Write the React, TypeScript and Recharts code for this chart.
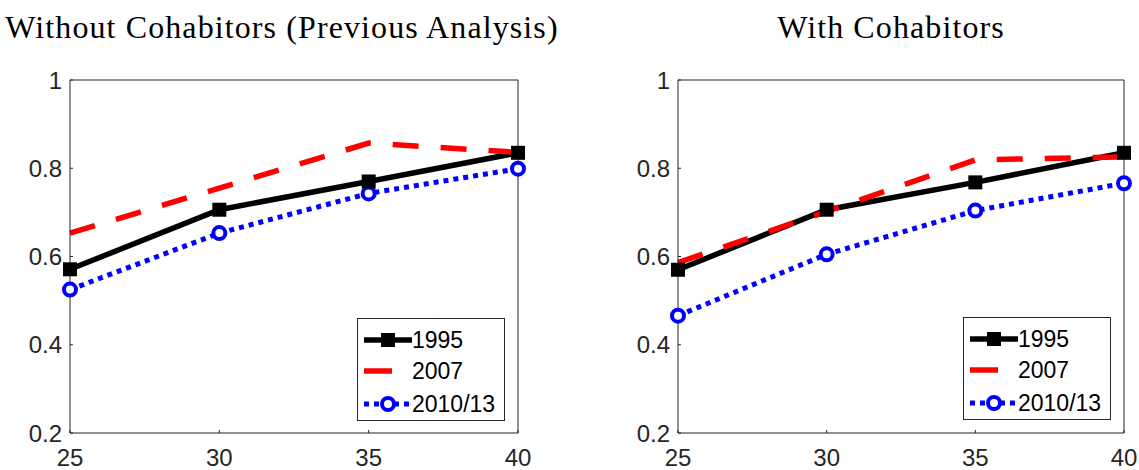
import { LineChart, Line, XAxis, YAxis, Legend } from 'recharts';

// ages on the horizontal axis
const ages = [25, 30, 35, 40];
const xTicks = [25, 30, 35, 40];
const yTicks = [0.2, 0.4, 0.6, 0.8, 1];

// share by age, sample without cohabitors
const prev1995 = [0.571, 0.706, 0.77, 0.835];
const prev2007 = [0.653, 0.755, 0.857, 0.836];
const prev2010 = [0.525, 0.653, 0.743, 0.799];

// share by age, sample with cohabitors
const cohab1995 = [0.57, 0.706, 0.768, 0.835];
const cohab2007 = [0.586, 0.702, 0.819, 0.826];
const cohab2010 = [0.466, 0.605, 0.704, 0.766];

const seriesNames = ['1995', '2007', '2010/13'];

const AXIS = '#262626';
const TICK_FONT = { fontFamily: 'Liberation Sans, Arial, sans-serif', fontSize: 24, fill: AXIS };

const SquareDot = (props: any) => {
  const { cx, cy } = props;
  if (cx == null || cy == null) return null;
  return <rect x={cx - 7} y={cy - 7} width={14} height={14} fill="#000" />;
};

const RingDot = (props: any) => {
  const { cx, cy } = props;
  if (cx == null || cy == null) return null;
  return <circle cx={cx} cy={cy} r={6} fill="#fff" stroke="#0000ff" strokeWidth={4} />;
};

function LegendBox() {
  const rowY = [22, 53, 86];
  return (
    <svg width={148} height={103} style={{ display: 'block' }}>
      <rect x={0.5} y={0.5} width={147} height={102} fill="#fff" stroke={AXIS} strokeWidth={1} />
      <line x1={7} x2={55} y1={rowY[0]} y2={rowY[0]} stroke="#000" strokeWidth={5.5} />
      <rect x={24} y={rowY[0] - 7} width={14} height={14} fill="#000" />
      <line x1={7} x2={35} y1={rowY[1]} y2={rowY[1]} stroke="#ff0000" strokeWidth={5.5} />
      <line x1={7} x2={55} y1={rowY[2]} y2={rowY[2]} stroke="#0000ff" strokeWidth={5} strokeDasharray="5 5" />
      <circle cx={31} cy={rowY[2]} r={6} fill="#fff" stroke="#0000ff" strokeWidth={4} />
      {seriesNames.map((n, i) => (
        <text
          key={n}
          x={55}
          y={rowY[i] + 8}
          fontFamily="Liberation Sans, Arial, sans-serif"
          fontSize={23}
          fill="#000"
        >
          {n}
        </text>
      ))}
    </svg>
  );
}

function Panel({ title, s1995, s2007, s2010, left, width, marginLeft, marginRight, titleX, legendX, legendY }: any) {
  const data = ages.map((age, i) => ({ age, y1995: s1995[i], y2007: s2007[i], y2010: s2010[i] }));
  return (
    <div style={{ position: 'absolute', left, top: 0, width, height: 470 }}>
      <div
        style={{
          position: 'absolute',
          left: titleX - 300,
          width: 600,
          top: 9,
          textAlign: 'center',
          fontFamily: 'Liberation Serif, serif',
          fontSize: 32,
          letterSpacing: 1.1,
          color: '#000',
          whiteSpace: 'nowrap',
        }}
      >
        {title}
      </div>
      <LineChart
        width={width}
        height={470}
        data={data}
        margin={{ top: 79, right: marginRight, bottom: 7, left: marginLeft }}
      >
        <XAxis
          dataKey="age"
          type="number"
          domain={[25, 40]}
          ticks={xTicks}
          height={30}
          tickSize={-3}
          tickMargin={19}
          stroke={AXIS}
          tick={TICK_FONT}
          interval={0}
        />
        <XAxis
          xAxisId="top"
          orientation="top"
          type="number"
          domain={[25, 40]}
          ticks={xTicks}
          height={1}
          tickSize={-3}
          tick={false}
          stroke={AXIS}
        />
        <YAxis
          type="number"
          domain={[0.2, 1]}
          ticks={yTicks}
          width={60}
          tickSize={-3}
          tickMargin={11}
          stroke={AXIS}
          tick={TICK_FONT}
          tickFormatter={(v: number) => String(v)}
          interval={0}
        />
        <YAxis
          yAxisId="right"
          orientation="right"
          type="number"
          domain={[0.2, 1]}
          ticks={yTicks}
          width={1}
          tickSize={-3}
          tick={false}
          stroke={AXIS}
        />
        <Line
          dataKey="y2010"
          type="linear"
          stroke="#0000ff"
          strokeWidth={5}
          strokeDasharray="5 5"
          dot={<RingDot />}
          activeDot={false}
          isAnimationActive={false}
        />
        <Line
          dataKey="y1995"
          type="linear"
          stroke="#000"
          strokeWidth={5.5}
          dot={<SquareDot />}
          activeDot={false}
          isAnimationActive={false}
        />
        <Line
          dataKey="y2007"
          type="linear"
          stroke="#ff0000"
          strokeWidth={5.5}
          strokeDasharray="26 22"
          dot={false}
          activeDot={false}
          isAnimationActive={false}
        />
        <Legend
          layout="horizontal"
          verticalAlign="middle"
          align="center"
          content={() => <LegendBox />}
          wrapperStyle={{ position: 'absolute', left: legendX, top: legendY, width: 148, height: 103 }}
        />
      </LineChart>
    </div>
  );
}

export default function App() {
  return (
    <div style={{ position: 'absolute', left: 0, top: 0, width: 1139, height: 470, background: '#fff', overflow: 'hidden' }}>
      <Panel
        title="Without Cohabitors (Previous Analysis)"
        s1995={prev1995}
        s2007={prev2007}
        s2010={prev2010}
        left={0}
        width={560}
        marginLeft={10}
        marginRight={41}
        titleX={282}
        legendX={357}
        legendY={318}
      />
      <Panel
        title="With Cohabitors"
        s1995={cohab1995}
        s2007={cohab2007}
        s2010={cohab2010}
        left={570}
        width={569}
        marginLeft={48}
        marginRight={14}
        titleX={321}
        legendX={393}
        legendY={317}
      />
    </div>
  );
}
